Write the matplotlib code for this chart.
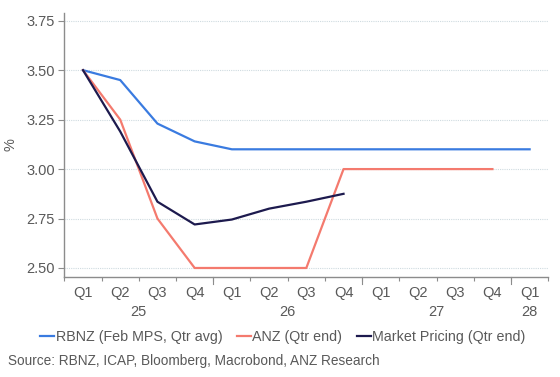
import matplotlib
matplotlib.use("Agg")
import matplotlib.pyplot as plt
import matplotlib.transforms as mtransforms

plt.rcParams['font.family'] = ['Liberation Sans', 'DejaVu Sans']

quarters = ["Q1", "Q2", "Q3", "Q4", "Q1", "Q2", "Q3", "Q4", "Q1", "Q2", "Q3", "Q4", "Q1"]
years = ["25", "26", "27", "28"]
year_centers = [1.5, 5.5, 9.5, 12]
year_bounds = [3.5, 7.5, 11.5]

rbnz = [3.50, 3.45, 3.23, 3.14, 3.10, 3.10, 3.10, 3.10, 3.10, 3.10, 3.10, 3.10, 3.10]
anz = [3.50, 3.25, 2.75, 2.50, 2.50, 2.50, 2.50, 3.00, 3.00, 3.00, 3.00, 3.00]
market = [3.50, 3.19, 2.835, 2.72, 2.745, 2.80, 2.835, 2.875]

yticks = [2.50, 2.75, 3.00, 3.25, 3.50, 3.75]

c_rbnz = "#3a7be0"
c_anz = "#f47a6e"
c_mkt = "#1d1a4e"
grey = "#595959"

fig = plt.figure(figsize=(5.6, 3.77), dpi=100)
ax = fig.add_axes([0.115, 0.2645, 0.864, 0.7015])

ax.plot(range(len(rbnz)), rbnz, color=c_rbnz, lw=1.6, label="RBNZ (Feb MPS, Qtr avg)")
ax.plot(range(len(anz)), anz, color=c_anz, lw=1.6, label="ANZ (Qtr end)")
ax.plot(range(len(market)), market, color=c_mkt, lw=1.6, label="Market Pricing (Qtr end)")

ax.set_xlim(-0.5, 12.5)
ax.set_ylim(2.453, 3.79)
ax.set_yticks(yticks)
ax.set_yticklabels([f"{v:.2f}" for v in yticks])
ax.yaxis.grid(True, color="#cfdbe0", linestyle=(0, (1, 1)), lw=0.8)
ax.set_axisbelow(True)

ax.set_xticks(range(len(quarters)))
ax.set_xticklabels(quarters)
ax.set_xticks([i - 0.5 for i in range(len(quarters) + 1)], minor=True)
ax.tick_params(axis='x', which='major', length=0, pad=6, labelsize=10.5, colors=grey)
ax.tick_params(axis='x', which='minor', length=3, color="#8c8c8c", width=0.8)
ax.tick_params(axis='y', length=4, color="#8c8c8c", width=0.8, labelsize=10.5, labelcolor=grey, pad=3)

trans = mtransforms.blended_transform_factory(ax.transData, ax.transAxes)
for b in year_bounds:
    ax.plot([b, b], [0, -0.027], transform=trans, color="#8c8c8c", lw=0.8, clip_on=False)
for yc, yl in zip(year_centers, years):
    ax.text(yc, -0.131, yl, transform=trans, ha="center", va="center", fontsize=10.5, color=grey)

for s in ["top", "right"]:
    ax.spines[s].set_visible(False)
for s in ["left", "bottom"]:
    ax.spines[s].set_color("#8c8c8c")
    ax.spines[s].set_linewidth(1.0)

ax.set_ylabel("%", fontsize=10.5, color=grey, labelpad=6)

fig.legend(loc="center", bbox_to_anchor=(0.505, 0.107), ncol=3, frameon=False,
           fontsize=10.3, handlelength=1.0, handletextpad=0.1, columnspacing=1.0,
           labelcolor=grey)

fig.text(0.014, 0.042, "Source: RBNZ, ICAP, Bloomberg, Macrobond, ANZ Research",
         fontsize=9.8, color=grey, ha="left", va="center")

fig.savefig("out.png", dpi=100)
